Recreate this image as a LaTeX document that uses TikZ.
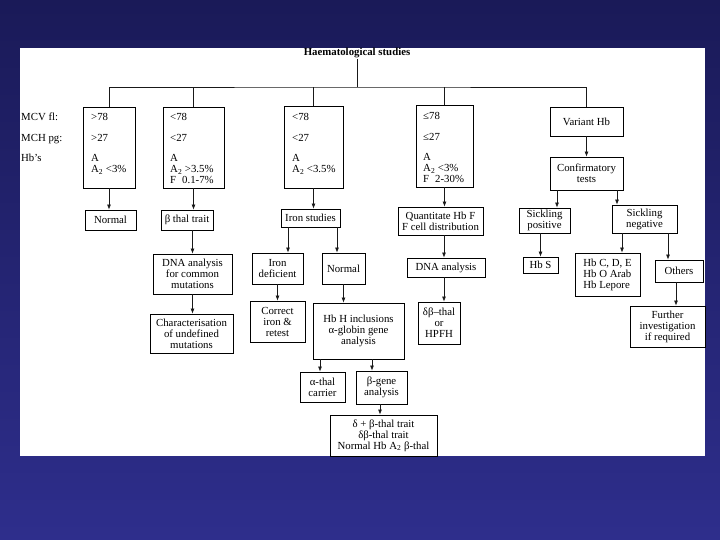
\documentclass[tikz,border=0pt]{standalone}
\usepackage{fontspec}
\setmainfont{Liberation Serif}
\usetikzlibrary{arrows.meta}
\begin{document}
\begin{tikzpicture}[x=1pt,y=-1pt,
 bx/.style={draw=black,line width=0.8pt,fill=white,inner sep=1pt,align=center,font=\fontsize{10.8}{11}\selectfont},
 lbl/.style={inner sep=0pt,anchor=base west,font=\fontsize{10.8}{11}\selectfont},
 ln/.style={line width=0.75pt,draw=black!90},
 arr/.style={ln,-{Latex[length=5pt,width=4pt]}}]
\useasboundingbox (0,0) rectangle (720,540);
\shade[top color={rgb,255:red,26;green,26;blue,88}, bottom color={rgb,255:red,46;green,46;blue,140}] (0,0) rectangle (720,540);
\fill[white] (20,48) rectangle (705,456);
% title
\node[inner sep=1pt,font=\fontsize{10.8}{11}\selectfont\bfseries] (title) at (357,53) {Haematological studies};
\coordinate (hub) at (357,87);
% row labels
\node[lbl] (lmcv) at (21,120.5) {MCV fl:};
\node[lbl] (lmch) at (21,141.5) {MCH pg:};
\node[lbl] (lhbs) at (21,162) {Hb’s};
% top boxes
\node[bx,minimum width=52pt,minimum height=81pt] (b1) at (109,147.5) {};
\node[bx,minimum width=61pt,minimum height=81pt] (b2) at (193.5,147.5) {};
\node[bx,minimum width=59pt,minimum height=82pt] (b3) at (313.5,147) {};
\node[bx,minimum width=57pt,minimum height=82pt] (b4) at (444.5,146) {};
\node[bx,minimum width=73pt,minimum height=29pt] (vh) at (586.5,121.5) {Variant Hb};
\node[bx,minimum width=73pt,minimum height=33pt] (ct) at (586.5,173.5) {Confirmatory\\tests};
% top box texts
\node[lbl] (t1a) at (91,120.5) {>78};
\node[lbl] (t1b) at (91,141.5) {>27};
\node[lbl] (t1c) at (91,162) {A};
\node[lbl] (t1d) at (91,173) {A\textsubscript{2} <3\%};
\node[lbl] (t2a) at (170,120.5) {<78};
\node[lbl] (t2b) at (170,141.5) {<27};
\node[lbl] (t2c) at (170,162) {A};
\node[lbl] (t2d) at (170,173) {A\textsubscript{2} >3.5\%};
\node[lbl] (t2e) at (170,184) {F\hspace{6pt}0.1-7\%};
\node[lbl] (t3a) at (292,120.5) {<78};
\node[lbl] (t3b) at (292,141.5) {<27};
\node[lbl] (t3c) at (292,162) {A};
\node[lbl] (t3d) at (292,173) {A\textsubscript{2} <3.5\%};
\node[lbl] (t4a) at (423,119.5) {≤78};
\node[lbl] (t4b) at (423,140.5) {≤27};
\node[lbl] (t4c) at (423,161) {A};
\node[lbl] (t4d) at (423,172) {A\textsubscript{2} <3\%};
\node[lbl] (t4e) at (423,183) {F\hspace{6pt}2-30\%};
% second level
\node[bx,minimum width=51pt,minimum height=20pt] (nrm) at (110.5,220) {Normal};
\node[bx,minimum width=52pt,minimum height=20pt] (btt) at (187,220) {β thal trait};
\node[bx,minimum width=79pt,minimum height=40pt] (dna1) at (192.5,274) {DNA analysis\\for common\\mutations};
\node[bx,minimum width=83pt,minimum height=39pt] (chr) at (191.5,333.5) {Characterisation\\of undefined\\mutations};
\node[bx,minimum width=59pt,minimum height=18pt] (irs) at (310.5,218) {Iron studies};
\node[bx,minimum width=51pt,minimum height=31pt] (ird) at (277.5,268.5) {Iron\\deficient};
\node[bx,minimum width=43pt,minimum height=31pt] (nrm2) at (343.5,268.5) {Normal};
\node[bx,minimum width=55pt,minimum height=41pt] (cir) at (277.5,321.5) {Correct\\iron \&\\retest};
\node[bx,minimum width=91pt,minimum height=56pt] (hbh) at (358.5,331) {Hb H inclusions\\α-globin gene\\analysis};
\node[bx,minimum width=45pt,minimum height=30pt] (atc) at (322.5,387) {α-thal\\carrier};
\node[bx,minimum width=51pt,minimum height=33pt] (bga) at (381.5,387.5) {β-gene\\analysis};
\node[bx,minimum width=107pt,minimum height=41pt] (fin) at (383.5,435.5) {δ + β-thal trait\\δβ-thal trait\\Normal Hb A\textsubscript{2} β-thal};
\node[bx,minimum width=85pt,minimum height=28pt] (qhf) at (440.5,221) {Quantitate Hb F\\F cell distribution};
\node[bx,minimum width=78pt,minimum height=19pt] (dna2) at (446,267.5) {DNA analysis};
\node[bx,minimum width=42pt,minimum height=42pt] (dbt) at (439,323) {δβ–thal\\or\\HPFH};
\node[bx,minimum width=51pt,minimum height=25pt] (skp) at (544.5,220.5) {Sickling\\positive};
\node[bx,minimum width=65pt,minimum height=28pt] (skn) at (644.5,219) {Sickling\\negative};
\node[bx,minimum width=35pt,minimum height=16pt] (hbs) at (540.5,265) {Hb S};
\node[bx,minimum width=65pt,minimum height=43pt,align=left] (hbc) at (607.5,274.5) {Hb C, D, E\\Hb O Arab\\Hb Lepore};
\node[bx,minimum width=48pt,minimum height=22pt] (oth) at (679,271) {Others};
\node[bx,minimum width=75pt,minimum height=41pt] (fur) at (667.5,326.5) {Further\\investigation\\if required};
% x positions for off-centre arrows
\coordinate (x288) at (288,0);
\coordinate (x337) at (337,0);
\coordinate (x320) at (320,0);
\coordinate (x372) at (372,0);
\coordinate (x380) at (380,0);
\coordinate (x557) at (557,0);
\coordinate (x617) at (617,0);
\coordinate (x622) at (622,0);
\coordinate (x668) at (668,0);
\coordinate (x676) at (676,0);
\coordinate (x444) at (444,0);
% tree lines
\draw[ln] (title.south) -- (hub);
\draw[ln] (b1.north) |- (hub) -| (vh.north);
\draw[ln] (b2.north) -- (b2.north |- hub);
\draw[ln] (b3.north) -- (b3.north |- hub);
\draw[ln] (b4.north) -- (b4.north |- hub);
% arrows
\draw[arr] (b1.south) -- (b1.south |- nrm.north);
\draw[arr] (b2.south) -- (b2.south |- btt.north);
\draw[arr] (btt.south -| dna1.north) -- (dna1.north);
\draw[arr] (dna1.south) -- (dna1.south |- chr.north);
\draw[arr] (b3.south) -- (b3.south |- irs.north);
\draw[arr] (irs.south -| x288) -- (ird.north -| x288);
\draw[arr] (irs.south -| x337) -- (nrm2.north -| x337);
\draw[arr] (ird.south) -- (ird.south |- cir.north);
\draw[arr] (nrm2.south) -- (nrm2.south |- hbh.north);
\draw[arr] (hbh.south -| x320) -- (atc.north -| x320);
\draw[arr] (hbh.south -| x372) -- (bga.north -| x372);
\draw[arr] (bga.south -| x380) -- (fin.north -| x380);
\draw[arr] (b4.south) -- (b4.south |- qhf.north);
\draw[arr] (qhf.south -| x444) -- (dna2.north -| x444);
\draw[arr] (dna2.south -| x444) -- (dbt.north -| x444);
\draw[arr] (vh.south) -- (ct.north);
\draw[arr] (ct.south -| x557) -- (skp.north -| x557);
\draw[arr] (ct.south -| x617) -- (skn.north -| x617);
\draw[arr] (skp.south -| hbs.north) -- (hbs.north);
\draw[arr] (skn.south -| x622) -- (hbc.north -| x622);
\draw[arr] (skn.south -| x668) -- (oth.north -| x668);
\draw[arr] (oth.south -| x676) -- (fur.north -| x676);
\end{tikzpicture}
\end{document}
